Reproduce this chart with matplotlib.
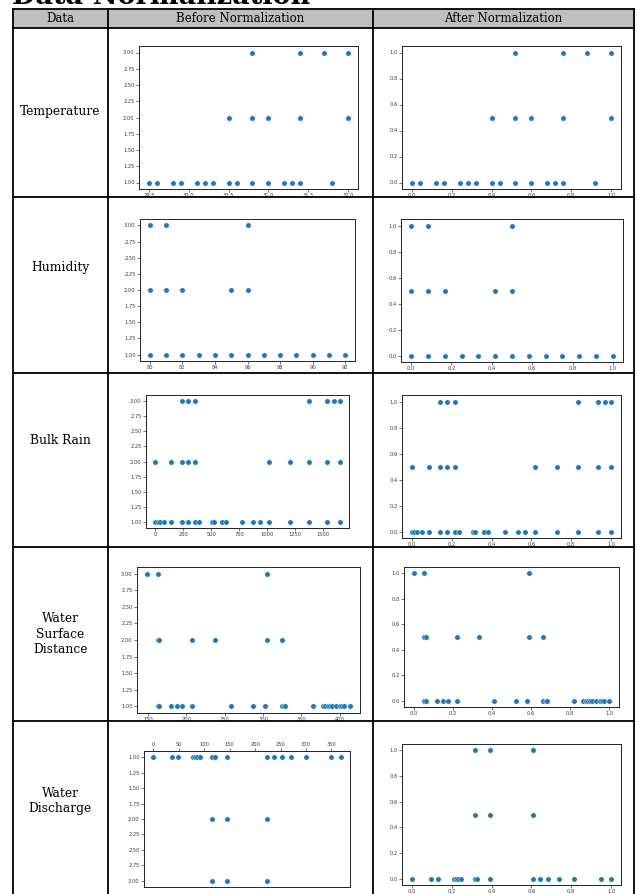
import numpy as np
import matplotlib
matplotlib.use("Agg")
import matplotlib.pyplot as plt
from matplotlib.lines import Line2D
from matplotlib.patches import Rectangle

# ---------------- data ----------------
row_names = ["Temperature", "Humidity", "Bulk Rain", "Water\nSurface\nDistance", "Water\nDischarge"]
col_headers = ["Data", "Before Normalization", "After Normalization"]

temp_lvl1 = [29.5, 29.6, 29.8, 29.9, 30.1, 30.2, 30.3, 30.5, 30.6, 30.8, 31.0, 31.2, 31.3, 31.4, 31.8]
temp_lvl2 = [30.5, 30.8, 31.0, 31.4, 32.0]
temp_lvl3 = [30.8, 31.4, 31.7, 32.0]

hum_lvl1 = [80, 81, 82, 83, 84, 85, 86, 87, 88, 89, 90, 91, 92]
hum_lvl2 = [80, 81, 82, 85, 86]
hum_lvl3 = [80, 81, 86]

rain_lvl1 = [0, 21, 39, 81, 143, 236, 289, 358, 391, 507, 525, 594, 632, 772, 877, 940, 1017, 1202, 1375, 1539, 1649]
rain_lvl2 = [0, 143, 236, 289, 358, 1017, 1202, 1375, 1539, 1649]
rain_lvl3 = [236, 289, 358, 1375, 1539, 1596, 1649]

wsd_lvl1 = [163, 165, 180, 188, 195, 208, 258, 287, 302, 324, 327, 329, 365, 378, 381, 384, 387, 390, 395, 400, 403, 406, 413]
wsd_lvl2 = [163, 165, 208, 237, 305, 324]
wsd_lvl3 = [149, 163, 305]

wd_lvl1 = [0, 36, 48, 77, 81, 86, 91, 116, 121, 145, 223, 237, 252, 271, 300, 349, 368]
wd_lvl2 = [116, 145, 223]
wd_lvl3 = [116, 145, 223]

x_ticks_before = [
    [29.5, 30.0, 30.5, 31.0, 31.5, 32.0],
    [80, 82, 84, 86, 88, 90, 92],
    [0, 250, 500, 750, 1000, 1250, 1500],
    [150, 200, 250, 300, 350, 400],
    [0, 50, 100, 150, 200, 250, 300, 350],
]
x_fmt_before = ["%.1f", "%d", "%d", "%d", "%d"]
y_ticks_before = [1.00, 1.25, 1.50, 1.75, 2.00, 2.25, 2.50, 2.75, 3.00]
ticks_after = [0.0, 0.2, 0.4, 0.6, 0.8, 1.0]

series = [
    (temp_lvl1, temp_lvl2, temp_lvl3),
    (hum_lvl1, hum_lvl2, hum_lvl3),
    (rain_lvl1, rain_lvl2, rain_lvl3),
    (wsd_lvl1, wsd_lvl2, wsd_lvl3),
    (wd_lvl1, wd_lvl2, wd_lvl3),
]

# ---------------- layout (pixels, from top-left) ----------------
W, H = 637, 894
fig = plt.figure(figsize=(W / 100, H / 100), dpi=100)
fig.patch.set_facecolor("white")

def fx(x):
    return x / W

def fy(y):
    return 1 - y / H

# axes boxes (left, top, right, bottom) in pixels
before_boxes = [(139, 46, 358, 189), (140, 219, 355, 361), (146, 395, 349, 528),
                (137, 567, 360, 713), (144, 751, 350, 887)]
after_boxes = [(402, 46, 621, 189), (401, 219, 623, 362), (402, 395, 621, 538),
               (404, 567, 619, 707), (402, 744, 621, 885)]

col_x = [13, 108, 373, 634]
header_top, header_bot = 9, 28
row_lines = [28, 197, 373, 547, 721]
label_y = [112, 267, 441, 634, 801]

def make_ax(box):
    l, t, r, b = box
    return fig.add_axes([fx(l), fy(b), fx(r) - fx(l), fy(t) - fy(b)])

def style(ax):
    ax.tick_params(labelsize=3.7, length=2, width=0.5, pad=1.2, colors="#3a3a3a")
    for s in ax.spines.values():
        s.set_linewidth(0.7)
        s.set_color("#222222")

blue = "#1f77b4"
msize = 15
for i, (l1, l2, l3) in enumerate(series):
    xs = np.array(list(l1) + list(l2) + list(l3), dtype=float)
    ys = np.array([1] * len(l1) + [2] * len(l2) + [3] * len(l3), dtype=float)

    ax = make_ax(before_boxes[i])
    ax.scatter(xs, ys, s=msize, color=blue, edgecolors="white", linewidths=0.3, zorder=3)
    ax.set_yticks(y_ticks_before)
    ax.set_yticklabels(["%.2f" % v for v in y_ticks_before])
    ax.set_xticks(x_ticks_before[i])
    ax.set_xticklabels([x_fmt_before[i] % v for v in x_ticks_before[i]])
    ax.margins(0.05)
    style(ax)
    if i == 4:
        # this panel appears vertically flipped in the reference
        ax.set_ylim(3.1, 0.9)
        ax.xaxis.tick_top()

    xn = (xs - xs.min()) / (xs.max() - xs.min())
    yn = (ys - 1) / 2
    ax2 = make_ax(after_boxes[i])
    ax2.scatter(xn, yn, s=msize, color=blue, edgecolors="white", linewidths=0.3, zorder=3)
    ax2.set_xticks(ticks_after)
    ax2.set_xticklabels(["%.1f" % v for v in ticks_after])
    ax2.set_yticks(ticks_after)
    ax2.set_yticklabels(["%.1f" % v for v in ticks_after])
    ax2.margins(0.05)
    style(ax2)

# white bands that clip tick labels at the cell borders
for y in row_lines[1:]:
    fig.add_artist(Rectangle((fx(col_x[1]), fy(y + 12)), fx(col_x[3]) - fx(col_x[1]), 12 / H,
                             transform=fig.transFigure, facecolor="white", edgecolor="none", zorder=5))

# header fill
fig.add_artist(Rectangle((fx(col_x[0]), fy(header_bot)), fx(col_x[3]) - fx(col_x[0]),
                         (header_bot - header_top) / H, transform=fig.transFigure,
                         facecolor="#bfbfbf", edgecolor="none", zorder=6))

# table lines
lw = 1.3
for y in [header_top] + row_lines:
    fig.add_artist(Line2D([fx(col_x[0]), fx(col_x[3])], [fy(y), fy(y)], transform=fig.transFigure,
                          color="black", lw=lw, zorder=8))
for x in col_x:
    fig.add_artist(Line2D([fx(x), fx(x)], [fy(header_top), 0], transform=fig.transFigure,
                          color="black", lw=lw, zorder=8))

serif = ["DejaVu Serif"]
# title (mostly cropped at the top of the image, as in the reference)
fig.text(fx(12), fy(4), "Data Normalization", fontsize=19.5, fontweight="bold", family=serif,
         ha="left", va="baseline", zorder=9)

hdr_cx = [(col_x[0] + col_x[1]) / 2, (col_x[1] + col_x[2]) / 2, (col_x[2] + col_x[3]) / 2]
for cx, h in zip(hdr_cx, col_headers):
    fig.text(fx(cx), fy((header_top + header_bot) / 2 + 0.5), h, fontsize=8.5, family=serif,
             ha="center", va="center", zorder=9)

for y, name in zip(label_y, row_names):
    fig.text(fx(hdr_cx[0]), fy(y), name, fontsize=8.8, family=serif, ha="center", va="center",
             linespacing=1.25, zorder=9)

fig.savefig("out.png", dpi=100)
